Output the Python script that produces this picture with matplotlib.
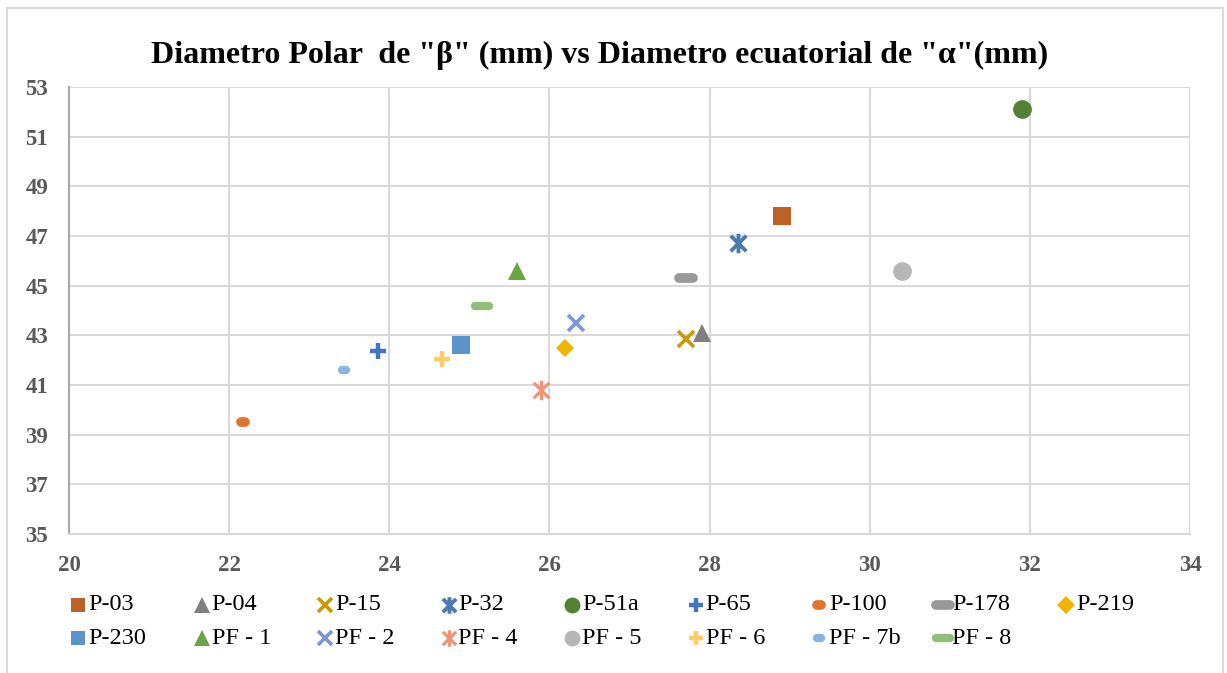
import numpy as np
from matplotlib import pyplot as plt
from matplotlib.path import Path
from matplotlib.markers import MarkerStyle
from matplotlib.lines import Line2D
from matplotlib.patches import Rectangle

plt.rcParams['font.family'] = ['Liberation Serif', 'DejaVu Serif']

# data
names = ['P-03', 'P-04', 'P-15', 'P-32', 'P-51a', 'P-65', 'P-100', 'P-178', 'P-219',
         'P-230', 'PF - 1', 'PF - 2', 'PF - 4', 'PF - 5', 'PF - 6', 'PF - 7b', 'PF - 8']
diam_ecuatorial = [28.9, 27.9, 27.7, 28.35, 31.9, 23.86, 22.17, 27.7, 26.19,
                   24.89, 25.6, 26.33, 25.9, 30.4, 24.66, 23.44, 25.16]
diam_polar = [47.8, 43.1, 42.87, 46.72, 52.12, 42.35, 39.5, 45.32, 42.5,
              42.63, 45.6, 43.5, 40.8, 45.58, 42.05, 41.62, 44.2]

x_ticks = np.arange(20, 35, 2)
y_ticks = np.arange(35, 54, 2)

# asterisk marker (x with a vertical bar), like Excel's "star"
star_path = Path([(-1, -1), (1, 1), (-1, 1), (1, -1), (0, -1.25), (0, 1.25)],
                 [Path.MOVETO, Path.LINETO, Path.MOVETO, Path.LINETO, Path.MOVETO, Path.LINETO])
dash = MarkerStyle('_', capstyle='round')

# marker, colour, size, edge width, filled
styles = [
    ('s', '#BD6125', 12.5, 0, True),
    ('^', '#808080', 13, 0, True),
    ('x', '#C99A06', 12, 2.6, False),
    (star_path, '#4A7BAE', 14, 2.8, False),
    ('o', '#548235', 13.5, 0, True),
    ('+', '#4472C4', 12, 3.2, False),
    (dash, '#E1752F', 3.5, 7, False),
    (dash, '#999999', 9.5, 7, False),
    ('D', '#F0B400', 9, 0, True),
    ('s', '#5B93CC', 12.5, 0, True),
    ('^', '#6AA444', 13, 0, True),
    ('x', '#7F96D8', 12, 2.6, False),
    (star_path, '#F39374', 14, 2.3, False),
    ('o', '#B7B7B7', 13.5, 0, True),
    ('+', '#FFCC66', 12, 3.2, False),
    (dash, '#8AB4E0', 3.5, 6, False),
    (dash, '#93BE7A', 9.5, 6, False),
]

fig = plt.figure(figsize=(12.27, 6.73), dpi=100)
W, H = 1227, 673
fig.patches.append(Rectangle((7 / W, -0.1), (1223 - 7) / W, 1.1 - 8 / H,
                             transform=fig.transFigure, fill=False,
                             edgecolor='#D9D9D9', linewidth=1.5))

ax = fig.add_axes([69 / W, 1 - 534 / H, (1190 - 69) / W, (534 - 87) / H])

def draw_kw(st):
    m, c, s, mew, filled = st
    kw = dict(marker=m, markersize=s, linestyle='none')
    if filled:
        kw.update(markerfacecolor=c, markeredgecolor=c, markeredgewidth=0)
    else:
        kw.update(color=c, markeredgewidth=mew)
    return kw

for xi, yi, st in zip(diam_ecuatorial, diam_polar, styles):
    ax.plot([xi], [yi], zorder=3, **draw_kw(st))

ax.set_xlim(20, 34)
ax.set_ylim(35, 53)
ax.set_xticks(x_ticks)
ax.set_yticks(y_ticks)
ax.grid(True, color='#D9D9D9', linewidth=1.5)
ax.set_axisbelow(True)
for sp in ['top', 'right']:
    ax.spines[sp].set_visible(False)
ax.spines['bottom'].set_color('#D9D9D9')
ax.spines['bottom'].set_linewidth(1.5)
ax.spines['left'].set_color('#A6A6A6')
ax.spines['left'].set_linewidth(1.5)
ax.tick_params(length=0, labelsize=16.5, labelcolor='#595959', pad=15)
for lab in ax.get_xticklabels() + ax.get_yticklabels():
    lab.set_fontweight('bold')

fig.text(600 / W, 1 - 55 / H, 'Diametro Polar  de "β" (mm) vs Diametro ecuatorial de "α"(mm)',
         ha='center', va='center', fontsize=23, fontweight='bold', color='black')

# legend laid out like Excel: fixed-width columns, filled row by row
for i, (name, st) in enumerate(zip(names, styles)):
    row, col = divmod(i, 9)
    mx = (78 + 123.5 * col) / W
    my = 1 - (605 + 33 * row) / H
    kw = draw_kw(st)
    if kw['markersize'] > 10:
        kw['markersize'] *= 0.85
    fig.add_artist(Line2D([mx], [my], transform=fig.transFigure, **kw))
    fig.text(mx + 10 / W, my, name, ha='left', va='center', fontsize=17.5, color='black')

fig.savefig('out.png', dpi=100)
